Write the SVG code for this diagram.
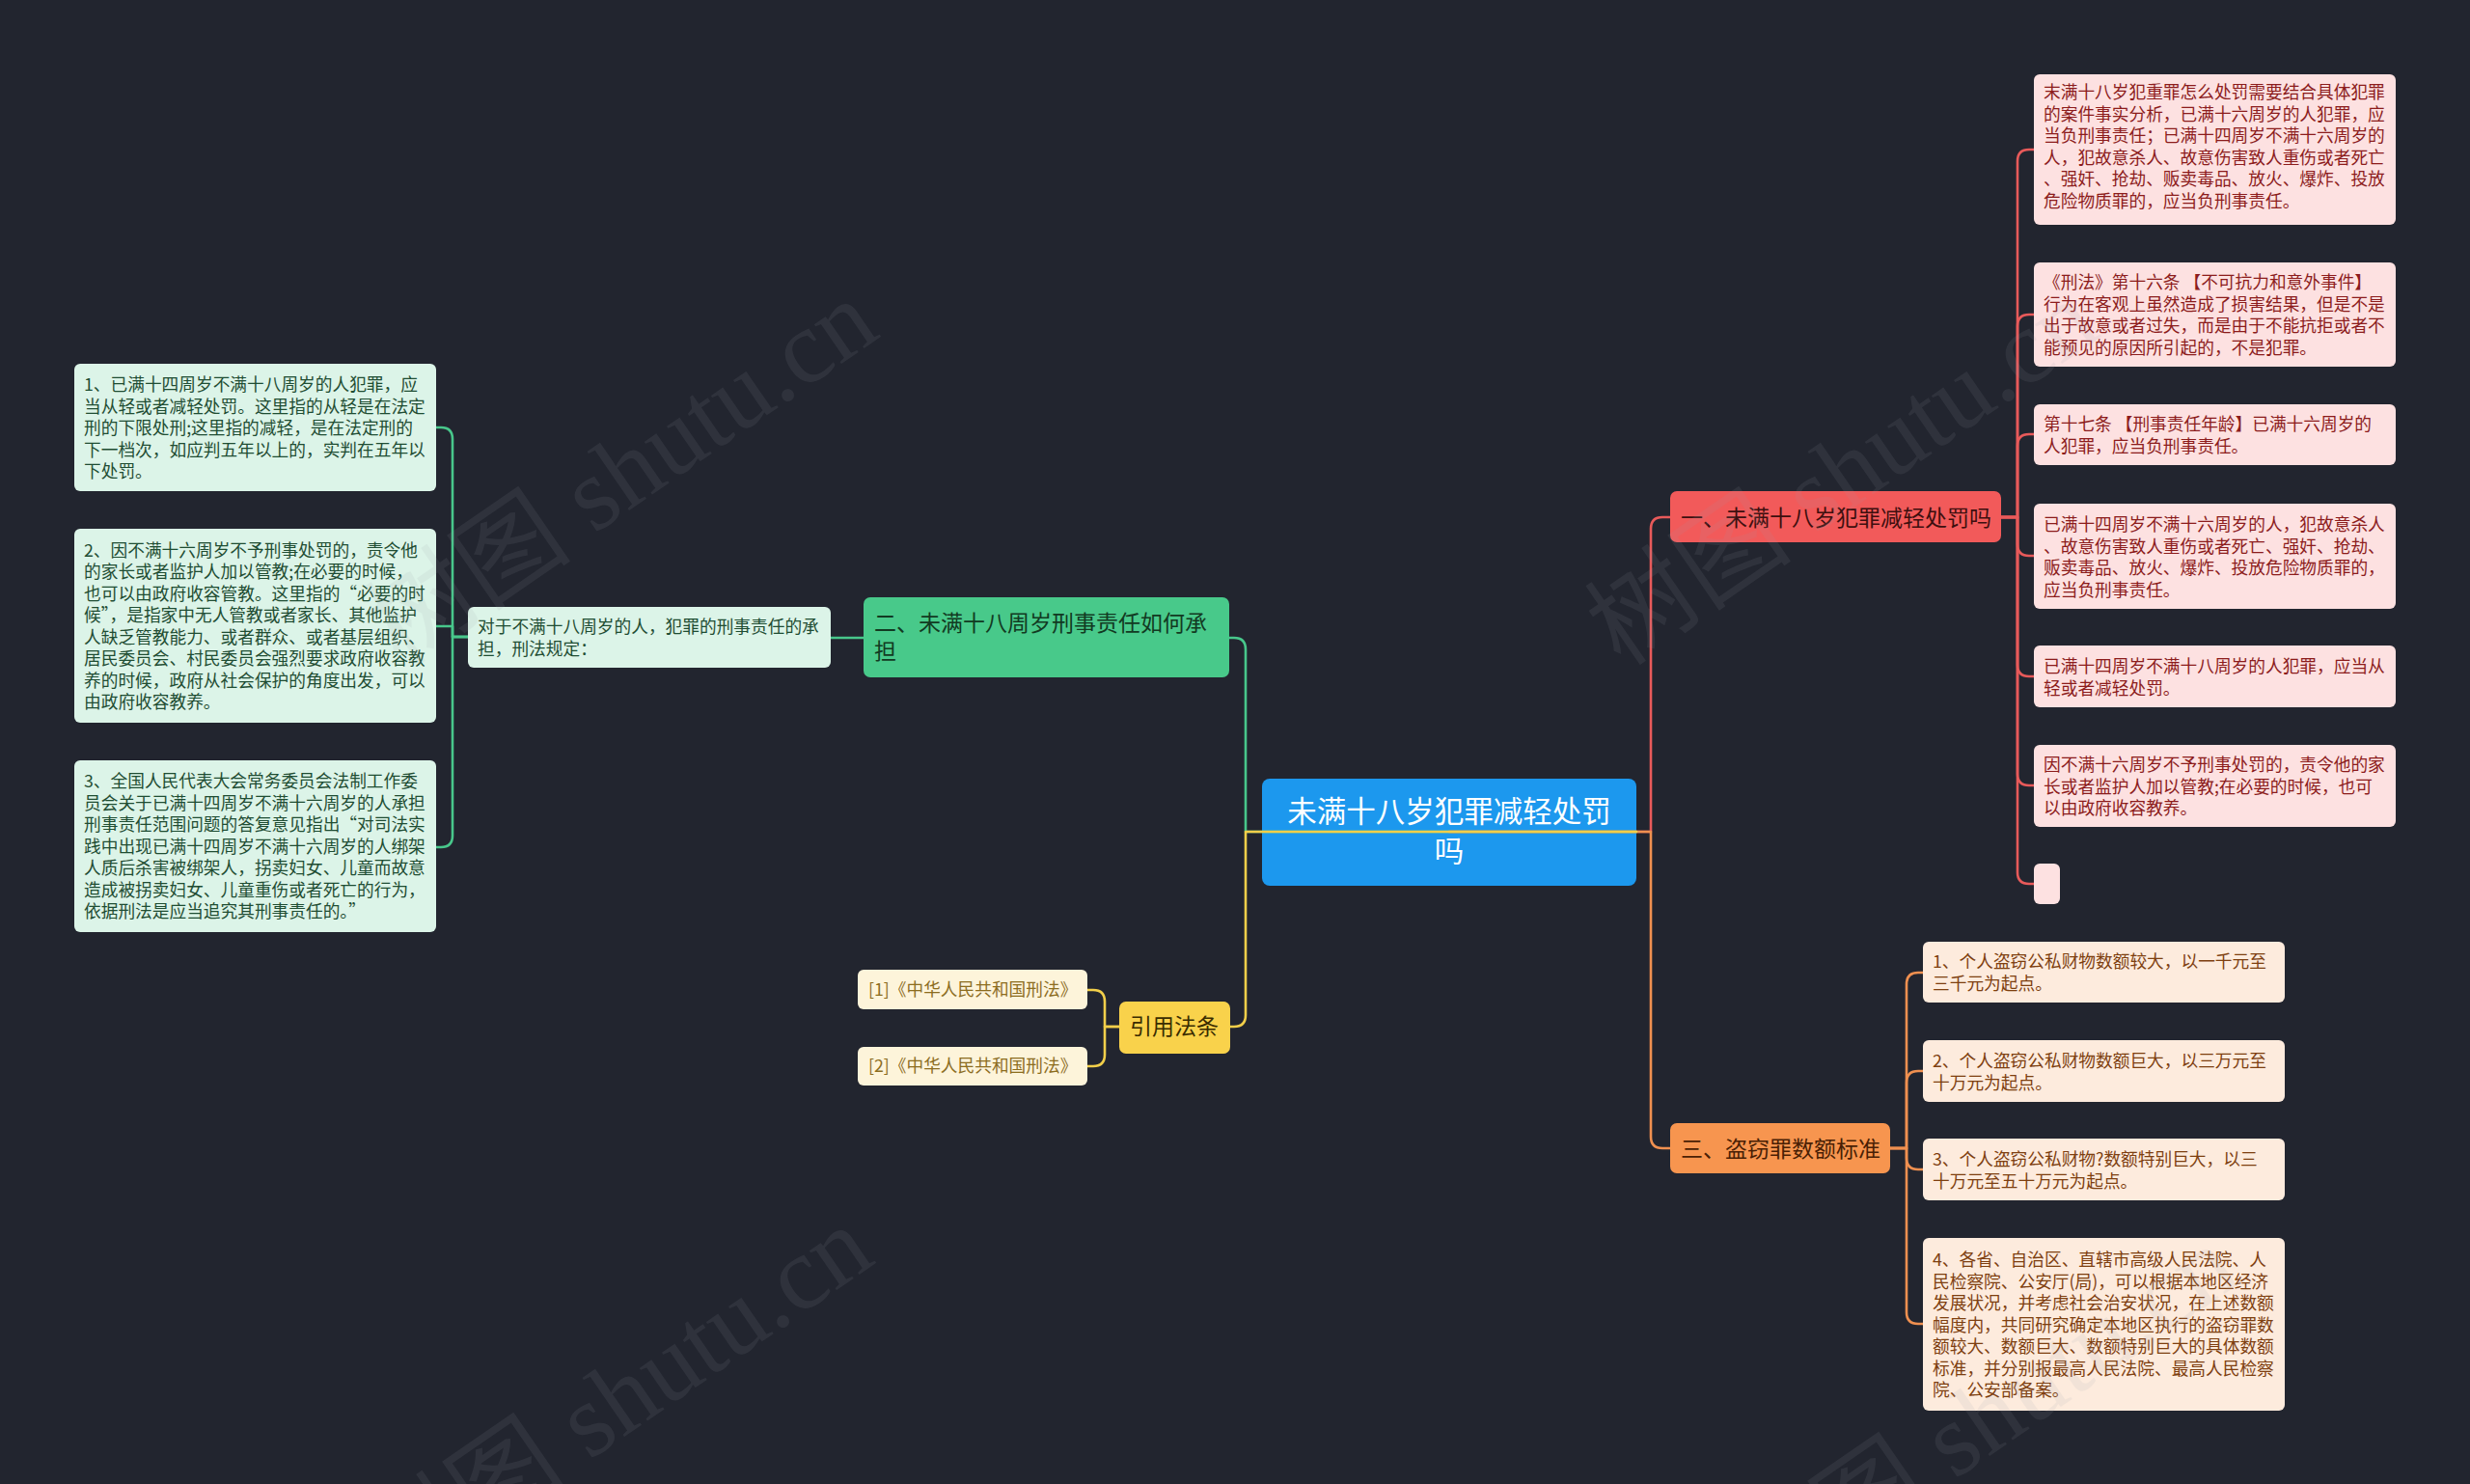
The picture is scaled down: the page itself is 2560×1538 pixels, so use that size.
<svg xmlns="http://www.w3.org/2000/svg" width="2560" height="1538" viewBox="0 0 2560 1538">
<style>
text{font-family:"Noto Sans CJK SC","Noto Sans",sans-serif;}
.s{font-size:17.7px;}
.g{fill:#1f4d33}.r{fill:#8c1c1c}.o{fill:#7e3f10}.y{fill:#8c6d1f}
.m{font-size:23px}
.ln{fill:none;stroke-width:2.6;stroke-linecap:round;stroke-linejoin:round}
.wm{font-family:"Liberation Serif","Noto Sans CJK SC",serif;font-size:108px;fill:#9aa0aa;opacity:0.11}
</style>
<rect width="2560" height="1538" fill="#22252f"/>

<g id="root">
<rect x="1308" y="807" width="388" height="111" rx="8" fill="#1c98ee"/>
<text x="1502" y="852" text-anchor="middle" font-size="30.5" fill="#ffffff"><tspan x="1502">未满十八岁犯罪减轻处罚</tspan><tspan x="1502" dy="41">吗</tspan></text>
</g>

<g id="connectors">
<path class="ln" stroke="#e85a5a" d="M1502,862 H1711 V548 Q1711,536 1723,536 H1731"/>
<path class="ln" stroke="#f09050" d="M1502,862 H1711 V1178 Q1711,1190 1723,1190 H1731"/>
<path class="ln" stroke="#48c78b" d="M1696,862 H1291 V673 Q1291,661 1279,661 H1274"/>
<path class="ln" stroke="#f2cf4a" d="M1696,862 H1291 V1052 Q1291,1064 1279,1064 H1274"/>
<path class="ln" stroke="#48c78b" d="M895,661 H861"/>
<path class="ln" stroke="#48c78b" d="M485,660 H469 V455 Q469,443 457,443 H452"/>
<path class="ln" stroke="#48c78b" d="M485,660 H469 V649 H452"/>
<path class="ln" stroke="#48c78b" d="M485,660 H469 V866 Q469,878 457,878 H452"/>
<path class="ln" stroke="#f2cf4a" d="M1160,1064 H1145 V1038 Q1145,1026 1133,1026 H1127"/>
<path class="ln" stroke="#f2cf4a" d="M1160,1064 H1145 V1093 Q1145,1105 1133,1105 H1127"/>
<path class="ln" stroke="#e85a5a" d="M2074,536 H2091 V167 Q2091,155 2103,155 H2108"/>
<path class="ln" stroke="#e85a5a" d="M2074,536 H2091 V338 Q2091,326 2103,326 H2108"/>
<path class="ln" stroke="#e85a5a" d="M2074,536 H2091 V462 Q2091,450 2103,450 H2108"/>
<path class="ln" stroke="#e85a5a" d="M2074,536 H2091 V564 Q2091,576 2103,576 H2108"/>
<path class="ln" stroke="#e85a5a" d="M2074,536 H2091 V689 Q2091,701 2103,701 H2108"/>
<path class="ln" stroke="#e85a5a" d="M2074,536 H2091 V802 Q2091,814 2103,814 H2108"/>
<path class="ln" stroke="#e85a5a" d="M2074,536 H2091 V904 Q2091,916 2103,916 H2108"/>
<path class="ln" stroke="#f09050" d="M1959,1190 H1976 V1020 Q1976,1008 1988,1008 H1993"/>
<path class="ln" stroke="#f09050" d="M1959,1190 H1976 V1122 Q1976,1110 1988,1110 H1993"/>
<path class="ln" stroke="#f09050" d="M1959,1190 H1976 V1200 Q1976,1212 1988,1212 H1993"/>
<path class="ln" stroke="#f09050" d="M1959,1190 H1976 V1360 Q1976,1372 1988,1372 H1993"/>
</g>

<g id="n1">
<rect x="1731" y="509" width="343" height="53" rx="7" fill="#f25a5a"/>
<text class="m" x="1742" y="545" fill="#3e0f0f">一、未满十八岁犯罪减轻处罚吗</text>
</g>
<g id="n2">
<rect x="895" y="619" width="379" height="83" rx="7" fill="#48c98a"/>
<text class="m" x="906" y="654" fill="#123a22"><tspan x="906">二、未满十八周岁刑事责任如何承</tspan><tspan x="906" dy="29">担</tspan></text>
</g>
<g id="n3">
<rect x="1731" y="1164" width="228" height="52" rx="7" fill="#f7954f"/>
<text class="m" x="1742" y="1199" fill="#4a1f05">三、盗窃罪数额标准</text>
</g>
<g id="n4">
<rect x="1160" y="1038" width="115" height="54" rx="7" fill="#f9d24b"/>
<text class="m" x="1217" y="1072" text-anchor="middle" fill="#3a2c00">引用法条</text>
</g>

<g id="g0">
<rect x="485" y="629" width="376" height="63" rx="6" fill="#dcf4e8"/>
<text class="s g" x="495" y="656"><tspan x="495">对于不满十八周岁的人，犯罪的刑事责任的承</tspan><tspan x="495" dy="22.5">担，刑法规定：</tspan></text>
</g>
<g id="g1">
<rect x="77" y="377" width="375" height="132" rx="6" fill="#dcf4e8"/>
<text class="s g" x="87" y="405"><tspan x="87">1、已满十四周岁不满十八周岁的人犯罪，应</tspan><tspan x="87" dy="22.5">当从轻或者减轻处罚。这里指的从轻是在法定</tspan><tspan x="87" dy="22.5">刑的下限处刑;这里指的减轻，是在法定刑的</tspan><tspan x="87" dy="22.5">下一档次，如应判五年以上的，实判在五年以</tspan><tspan x="87" dy="22.5">下处罚。</tspan></text>
</g>
<g id="g2">
<rect x="77" y="548" width="375" height="201" rx="6" fill="#dcf4e8"/>
<text class="s g" x="87" y="576.5"><tspan x="87">2、因不满十六周岁不予刑事处罚的，责令他</tspan><tspan x="87" dy="22.5">的家长或者监护人加以管教;在必要的时候，</tspan><tspan x="87" dy="22.5">也可以由政府收容管教。这里指的“必要的时</tspan><tspan x="87" dy="22.5">候”，是指家中无人管教或者家长、其他监护</tspan><tspan x="87" dy="22.5">人缺乏管教能力、或者群众、或者基层组织、</tspan><tspan x="87" dy="22.5">居民委员会、村民委员会强烈要求政府收容教</tspan><tspan x="87" dy="22.5">养的时候，政府从社会保护的角度出发，可以</tspan><tspan x="87" dy="22.5">由政府收容教养。</tspan></text>
</g>
<g id="g3">
<rect x="77" y="788" width="375" height="178" rx="6" fill="#dcf4e8"/>
<text class="s g" x="87" y="816"><tspan x="87">3、全国人民代表大会常务委员会法制工作委</tspan><tspan x="87" dy="22.5">员会关于已满十四周岁不满十六周岁的人承担</tspan><tspan x="87" dy="22.5">刑事责任范围问题的答复意见指出“对司法实</tspan><tspan x="87" dy="22.5">践中出现已满十四周岁不满十六周岁的人绑架</tspan><tspan x="87" dy="22.5">人质后杀害被绑架人，拐卖妇女、儿童而故意</tspan><tspan x="87" dy="22.5">造成被拐卖妇女、儿童重伤或者死亡的行为，</tspan><tspan x="87" dy="22.5">依据刑法是应当追究其刑事责任的。”</tspan></text>
</g>

<g id="y1">
<rect x="889" y="1005" width="238" height="41" rx="6" fill="#fdf4da"/>
<text class="s y" x="900" y="1032" font-size="18">[1]《中华人民共和国刑法》</text>
</g>
<g id="y2">
<rect x="889" y="1085" width="238" height="40" rx="6" fill="#fdf4da"/>
<text class="s y" x="900" y="1111" font-size="18">[2]《中华人民共和国刑法》</text>
</g>

<g id="r1">
<rect x="2108" y="77" width="375" height="156" rx="6" fill="#fde1e1"/>
<text class="s r" x="2118" y="102"><tspan x="2118">末满十八岁犯重罪怎么处罚需要结合具体犯罪</tspan><tspan x="2118" dy="22.5">的案件事实分析，已满十六周岁的人犯罪，应</tspan><tspan x="2118" dy="22.5">当负刑事责任；已满十四周岁不满十六周岁的</tspan><tspan x="2118" dy="22.5">人，犯故意杀人、故意伤害致人重伤或者死亡</tspan><tspan x="2118" dy="22.5">、强奸、抢劫、贩卖毒品、放火、爆炸、投放</tspan><tspan x="2118" dy="22.5">危险物质罪的，应当负刑事责任。</tspan></text>
</g>
<g id="r2">
<rect x="2108" y="272" width="375" height="108" rx="6" fill="#fde1e1"/>
<text class="s r" x="2118" y="299"><tspan x="2118">《刑法》第十六条 【不可抗力和意外事件】</tspan><tspan x="2118" dy="22.5">行为在客观上虽然造成了损害结果，但是不是</tspan><tspan x="2118" dy="22.5">出于故意或者过失，而是由于不能抗拒或者不</tspan><tspan x="2118" dy="22.5">能预见的原因所引起的，不是犯罪。</tspan></text>
</g>
<g id="r3">
<rect x="2108" y="419" width="375" height="63" rx="6" fill="#fde1e1"/>
<text class="s r" x="2118" y="446"><tspan x="2118">第十七条 【刑事责任年龄】已满十六周岁的</tspan><tspan x="2118" dy="22.5">人犯罪，应当负刑事责任。</tspan></text>
</g>
<g id="r4">
<rect x="2108" y="522" width="375" height="109" rx="6" fill="#fde1e1"/>
<text class="s r" x="2118" y="550"><tspan x="2118">已满十四周岁不满十六周岁的人，犯故意杀人</tspan><tspan x="2118" dy="22.5">、故意伤害致人重伤或者死亡、强奸、抢劫、</tspan><tspan x="2118" dy="22.5">贩卖毒品、放火、爆炸、投放危险物质罪的，</tspan><tspan x="2118" dy="22.5">应当负刑事责任。</tspan></text>
</g>
<g id="r5">
<rect x="2108" y="669" width="375" height="64" rx="6" fill="#fde1e1"/>
<text class="s r" x="2118" y="697"><tspan x="2118">已满十四周岁不满十八周岁的人犯罪，应当从</tspan><tspan x="2118" dy="22.5">轻或者减轻处罚。</tspan></text>
</g>
<g id="r6">
<rect x="2108" y="772" width="375" height="85" rx="6" fill="#fde1e1"/>
<text class="s r" x="2118" y="799"><tspan x="2118">因不满十六周岁不予刑事处罚的，责令他的家</tspan><tspan x="2118" dy="22.5">长或者监护人加以管教;在必要的时候，也可</tspan><tspan x="2118" dy="22.5">以由政府收容教养。</tspan></text>
</g>
<g id="r7">
<rect x="2108" y="895" width="27" height="42" rx="6" fill="#fde1e1"/>
</g>

<g id="o1">
<rect x="1993" y="976" width="375" height="63" rx="6" fill="#fdebdd"/>
<text class="s o" x="2003" y="1003"><tspan x="2003">1、个人盗窃公私财物数额较大，以一千元至</tspan><tspan x="2003" dy="22.5">三千元为起点。</tspan></text>
</g>
<g id="o2">
<rect x="1993" y="1078" width="375" height="64" rx="6" fill="#fdebdd"/>
<text class="s o" x="2003" y="1106"><tspan x="2003">2、个人盗窃公私财物数额巨大，以三万元至</tspan><tspan x="2003" dy="22.5">十万元为起点。</tspan></text>
</g>
<g id="o3">
<rect x="1993" y="1180" width="375" height="64" rx="6" fill="#fdebdd"/>
<text class="s o" x="2003" y="1208"><tspan x="2003">3、个人盗窃公私财物?数额特别巨大，以三</tspan><tspan x="2003" dy="22.5">十万元至五十万元为起点。</tspan></text>
</g>
<g id="o4">
<rect x="1993" y="1283" width="375" height="179" rx="6" fill="#fdebdd"/>
<text class="s o" x="2003" y="1312"><tspan x="2003">4、各省、自治区、直辖市高级人民法院、人</tspan><tspan x="2003" dy="22.5">民检察院、公安厅(局)，可以根据本地区经济</tspan><tspan x="2003" dy="22.5">发展状况，并考虑社会治安状况，在上述数额</tspan><tspan x="2003" dy="22.5">幅度内，共同研究确定本地区执行的盗窃罪数</tspan><tspan x="2003" dy="22.5">额较大、数额巨大、数额特别巨大的具体数额</tspan><tspan x="2003" dy="22.5">标准，并分别报最高人民法院、最高人民检察</tspan><tspan x="2003" dy="22.5">院、公安部备案。</tspan></text>
</g>

<g id="watermark">
<text class="wm" transform="translate(665,520) rotate(-34.6)" text-anchor="middle">树图 shutu.cn</text>
<text class="wm" transform="translate(1930,520) rotate(-34.6)" text-anchor="middle">树图 shutu.cn</text>
<text class="wm" transform="translate(660,1480) rotate(-34.6)" text-anchor="middle">树图 shutu.cn</text>
<text class="wm" transform="translate(2075,1500) rotate(-34.6)" text-anchor="middle">树图 shutu.cn</text>
</g>
</svg>
